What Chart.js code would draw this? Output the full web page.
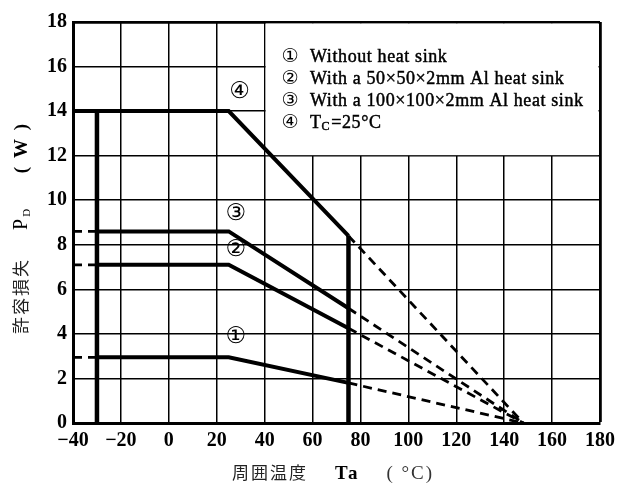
<!DOCTYPE html>
<html>
<head>
<meta charset="utf-8">
<script src="https://cdn.jsdelivr.net/npm/chart.js@4.4.1/dist/chart.umd.min.js"></script>
<style>
  body { margin: 0; background: #fff; }
  #wrap { width: 621px; height: 485px; }
</style>
</head>
<body>
<div id="wrap"><canvas id="derating"></canvas></div>
<script>
// ambient temperature Ta (°C) of the corner points of every curve
const temps = [-40, -30, 25, 75, 148];
// allowable power dissipation PD (W) at those temperatures
const curve1 = [2.95, 2.95, 2.95, 1.8, 0];
const curve2 = [7.1, 7.1, 7.1, 4.25, 0];
const curve3 = [8.6, 8.6, 8.6, 5.15, 0];
const curve4 = [14, 14, 14, 8.4, 0];
const curveMarks = ['①', '②', '③', '④'];
const legendLabels = ['Without heat sink', 'With a 50×50×2mm Al heat sink',
    'With a 100×100×2mm Al heat sink', 'TC=25°C'];
// where the circled numbers sit next to the curves (Ta, PD)
const markTemps = [28, 28, 28, 29.5];
const markPower = [3.85, 7.75, 9.4, 14.85];
const xTicks = [-40, -20, 0, 20, 40, 60, 80, 100, 120, 140, 160, 180];
const yTicks = [0, 2, 4, 6, 8, 10, 12, 14, 16, 18];

const SERIF = "'Liberation Serif', 'DejaVu Serif', serif";
const CJK = "'Noto Sans CJK JP', 'Noto Sans CJK SC', sans-serif";
const MARKF = "'DejaVu Sans', sans-serif";

function pts(ys) {
    return temps.map((t, i) => ({ x: t, y: ys[i] }));
}

// left stub (-40..-30) is dashed except for curve 4, everything after 75°C is dashed
function curve(ys, dashLeft) {
    const dashed = c => c.p0DataIndex >= 3 || (dashLeft && c.p0DataIndex == 0);
    return {
        data: pts(ys),
        borderColor: '#000',
        borderWidth: 4,
        pointRadius: 0,
        tension: 0,
        segment: {
            borderDash: c => dashed(c) ? [9, 6] : undefined,
            borderWidth: c => dashed(c) ? 2.8 : 4
        }
    };
}

function limitLine(t, top) {
    return {
        data: [{ x: t, y: 0 }, { x: t, y: top }],
        borderColor: '#000',
        borderWidth: 4.5,
        pointRadius: 0
    };
}

// fill + thin stroke so the serif text looks a little heavier, like the print
function heavyText(ctx, s, x, y) {
    ctx.fillText(s, x, y);
    ctx.strokeText(s, x, y);
}

function drawRuns(ctx, runs, x, y) {
    let total = 0;
    runs.forEach(r => { ctx.font = r.font; total += ctx.measureText(r.t).width; });
    let cx = x - total / 2;
    ctx.textAlign = 'left';
    ctx.textBaseline = 'alphabetic';
    runs.forEach(r => {
        ctx.font = r.font;
        ctx.fillStyle = r.color || '#000';
        ctx.fillText(r.t, cx, y + (r.dy || 0));
        cx += ctx.measureText(r.t).width;
    });
}

const legendBox = {
    id: 'legendBox',
    beforeDatasetsDraw(chart) {
        const ctx = chart.ctx, xs = chart.scales.x, ys = chart.scales.y;
        const l = xs.getPixelForValue(40), r = xs.getPixelForValue(180);
        const t = ys.getPixelForValue(18), b = ys.getPixelForValue(12);
        ctx.save();
        ctx.fillStyle = '#fff';
        ctx.fillRect(l + 1, t + 1.5, r - l - 2.5, b - t - 2);
        ctx.fillStyle = '#000';
        ctx.strokeStyle = '#000';
        ctx.lineWidth = 0.45;
        ctx.textBaseline = 'middle';
        legendLabels.forEach((lab, i) => {
            const y = t + 35 + i * 22;
            ctx.font = '19px ' + MARKF;
            ctx.textAlign = 'center';
            ctx.fillText(curveMarks[i], 290, y);
            ctx.textAlign = 'left';
            ctx.font = '18px ' + SERIF;
            ctx.letterSpacing = '0.6px';
            if (i == 3) {
                heavyText(ctx, 'T', 310, y);
                let w = ctx.measureText('T').width;
                ctx.font = '12px ' + SERIF;
                heavyText(ctx, 'C', 310 + w, y + 4);
                w += ctx.measureText('C').width + 1;
                ctx.font = '18px ' + SERIF;
                heavyText(ctx, '=25°C', 310 + w, y);
            } else {
                heavyText(ctx, lab, 310, y);
            }
            ctx.letterSpacing = '0px';
        });
        ctx.restore();
    },
    afterDraw(chart) {
        const ctx = chart.ctx, xs = chart.scales.x, ys = chart.scales.y;
        ctx.save();
        // circled numbers beside the curves
        ctx.font = '23px ' + MARKF;
        ctx.textAlign = 'center';
        ctx.textBaseline = 'middle';
        ctx.fillStyle = '#000';
        curveMarks.forEach((m, i) => {
            ctx.fillText(m, xs.getPixelForValue(markTemps[i]), ys.getPixelForValue(markPower[i]));
        });
        // x axis title
        ctx.letterSpacing = '2px';
        drawRuns(ctx, [
            { t: '周囲温度', font: '17px ' + CJK, color: '#222' },
            { t: '    Ta    ', font: '600 19px ' + SERIF },
            { t: '( °C)', font: '19px ' + SERIF, color: '#333' }
        ], 333, 479);
        // y axis title, rotated
        ctx.translate(27, 228);
        ctx.rotate(-Math.PI / 2);
        drawRuns(ctx, [
            { t: '許容損失', font: '17px ' + CJK, color: '#222' },
            { t: '    P', font: '20px ' + SERIF },
            { t: 'D', font: '11px ' + SERIF, dy: 3 },
            { t: '     ( W )', font: '600 19px ' + SERIF }
        ], 0, 0);
        ctx.restore();
    }
};

new Chart(document.getElementById('derating'), {
    type: 'line',
    data: {
        datasets: [
            curve(curve1, true),
            curve(curve2, true),
            curve(curve3, true),
            curve(curve4, false),
            limitLine(temps[1], curve4[1]),
            limitLine(temps[3], curve4[3])
        ]
    },
    options: {
        responsive: true,
        maintainAspectRatio: false,
        animation: false,
        events: [],
        layout: { padding: { top: 22, right: 17, left: 0, bottom: 0 } },
        plugins: { legend: { display: false }, tooltip: { enabled: false } },
        scales: {
            x: {
                type: 'linear',
                min: xTicks[0],
                max: xTicks[xTicks.length - 1],
                afterBuildTicks: s => { s.ticks = xTicks.map(v => ({ value: v })); },
                afterFit: s => { s.height = 62; },
                ticks: {
                    color: '#000',
                    padding: 6,
                    maxRotation: 0,
                    font: { family: SERIF, size: 20, weight: '600' },
                    callback: v => v < 0 ? '\u2212' + Math.abs(v) : v
                },
                grid: {
                    color: '#000',
                    drawTicks: false,
                    lineWidth: c => c.index == xTicks.length - 1 ? 2.8 : 1.5
                },
                border: { color: '#000', width: 3 }
            },
            y: {
                min: yTicks[0],
                max: yTicks[yTicks.length - 1],
                afterBuildTicks: s => { s.ticks = yTicks.map(v => ({ value: v })); },
                afterFit: s => { s.width = 73; },
                ticks: {
                    color: '#000',
                    padding: 6,
                    font: { family: SERIF, size: 20, weight: '600' }
                },
                grid: {
                    color: '#000',
                    drawTicks: false,
                    lineWidth: c => c.index == yTicks.length - 1 ? 2.8 : 1.5
                },
                border: { color: '#000', width: 3 }
            }
        }
    },
    plugins: [legendBox]
});
</script>
</body>
</html>
